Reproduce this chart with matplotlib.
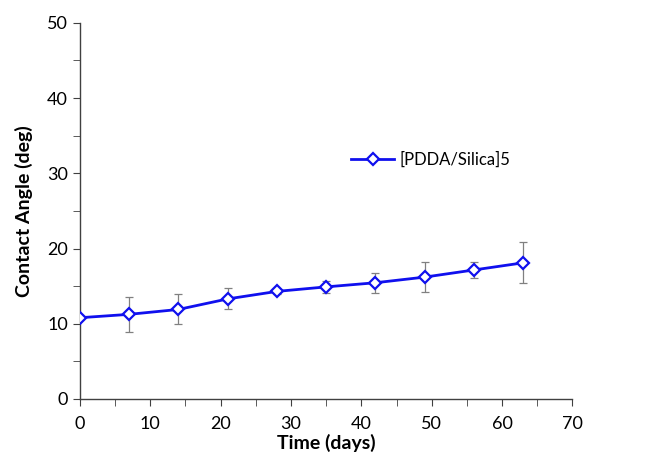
import matplotlib.pyplot as plt
import numpy as np
from matplotlib.ticker import MultipleLocator

time_days = [0, 7, 14, 21, 28, 35, 42, 49, 56, 63]
contact_angle = [10.8, 11.25, 11.9, 13.3, 14.3, 14.9, 15.45, 16.2, 17.15, 18.1]
angle_err = [0.2, 2.35, 2.0, 1.4, 0.3, 0.75, 1.3, 2.0, 1.1, 2.7]
series_label = "[PDDA/Silica]5"

plt.rcParams['font.family'] = ['Lato', 'DejaVu Sans']

fig = plt.figure(figsize=(6.55, 4.57), dpi=100)
ax = fig.add_axes([0.122, 0.127, 0.752, 0.823])

ax.errorbar(time_days, contact_angle, yerr=angle_err, fmt='none',
            ecolor='#808080', elinewidth=0.9, capsize=3, capthick=0.9, zorder=2)
ax.plot(time_days, contact_angle, color='#1010ee', linewidth=2,
        marker='D', markersize=6, markerfacecolor='white',
        markeredgecolor='#1010ee', markeredgewidth=1.6, label=series_label, zorder=3)

ax.set_xlim(0, 70)
ax.set_ylim(0, 50)
ax.xaxis.set_major_locator(MultipleLocator(10))
ax.xaxis.set_minor_locator(MultipleLocator(5))
ax.yaxis.set_major_locator(MultipleLocator(10))
ax.yaxis.set_minor_locator(MultipleLocator(5))
ax.tick_params(which='both', direction='out', colors='#404040', labelcolor='black',
               labelsize=13)
ax.tick_params(which='major', length=5)
ax.tick_params(which='minor', length=5)
ax.tick_params(axis='x', pad=7)

for s in ['top', 'right']:
    ax.spines[s].set_visible(False)
for s in ['left', 'bottom']:
    ax.spines[s].set_color('#404040')
    ax.spines[s].set_linewidth(1)

ax.set_xlabel("Time (days)", fontsize=14, fontweight='bold', labelpad=2)
ax.set_ylabel("Contact Angle (deg)", fontsize=14, fontweight='bold', labelpad=10)

ax.legend(loc='center left', bbox_to_anchor=(0.52, 0.637), frameon=False,
          fontsize=12, handlelength=2.6, handletextpad=0.3)

plt.savefig("out.png", dpi=100)
